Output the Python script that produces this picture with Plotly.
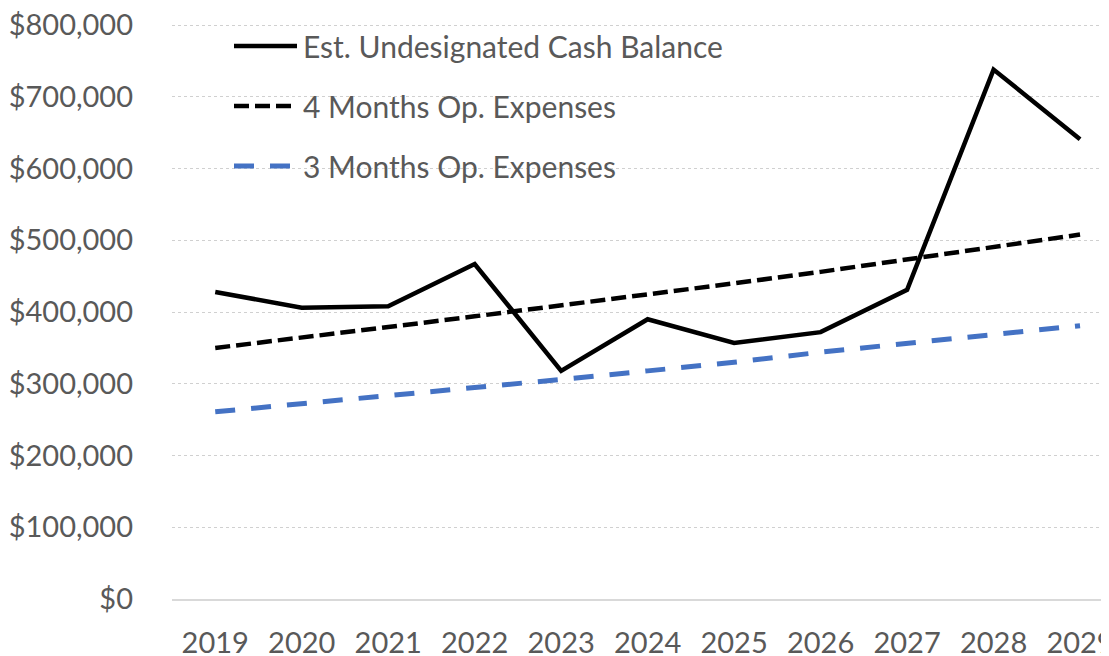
import plotly.graph_objects as go

years = [2019, 2020, 2021, 2022, 2023, 2024, 2025, 2026, 2027, 2028, 2029]
cash_balance = [428000, 406000, 408000, 467000, 318000, 390000, 357000, 372000, 431000, 738000, 641000]
four_months = [350000, 364000, 379000, 394000, 409000, 424000, 440000, 456000, 473000, 490000, 508000]
three_months = [261000, 272000, 283000, 295000, 306000, 318000, 330000, 344000, 356000, 368000, 381000]
series_names = ["Est. Undesignated Cash Balance", "4 Months Op. Expenses", "3 Months Op. Expenses"]
y_ticks = [0, 100000, 200000, 300000, 400000, 500000, 600000, 700000, 800000]

# the page body has an 8px margin, so the figure is offset by (8, 8) in the window
OFF = 8
W, H = 1109 - OFF, 656 - OFF
ML, MR, MT, MB = 172 - OFF, 0, 24 - OFF, 656 - 599
FONT = "Lato"
GRAY = "#595959"
BLUE = "#4472C4"
Y_MAX = 801500

fig = go.Figure()
fig.add_trace(go.Scatter(x=years, y=cash_balance, mode="lines", name=series_names[0],
                         line=dict(color="black", width=4.5), showlegend=False))
fig.add_trace(go.Scatter(x=years, y=four_months, mode="lines", name=series_names[1],
                         line=dict(color="black", width=4.5, dash="15px,6px"), showlegend=False))
fig.add_trace(go.Scatter(x=years, y=three_months, mode="lines", name=series_names[2],
                         line=dict(color=BLUE, width=5, dash="20px,16px"), showlegend=False))

# custom legend (paper coordinates), positions given in window pixels
pw = W - ML - MR
ph = H - MT - MB
def px_x(p):
    return (p - OFF - ML) / pw
def px_y(p):
    return (H - MB - (p - OFF)) / ph

rows = [46, 106, 166]
styles = [dict(color="black", width=4.5), dict(color="black", width=4.5, dash="15px,6px"),
          dict(color=BLUE, width=5, dash="20px,16px")]
for name, ry, st in zip(series_names, rows, styles):
    fig.add_shape(type="line", xref="paper", yref="paper",
                  x0=px_x(234), x1=px_x(297), y0=px_y(ry), y1=px_y(ry), line=st)
    fig.add_annotation(xref="paper", yref="paper", x=px_x(301), y=px_y(ry),
                       text=name, showarrow=False, xanchor="left", yanchor="middle",
                       font=dict(family=FONT, size=30, color=GRAY))

fig.update_layout(
    width=W, height=H,
    margin=dict(l=ML, r=MR, t=MT, b=MB, pad=0, autoexpand=False),
    paper_bgcolor="white", plot_bgcolor="white",
    font=dict(family=FONT, size=29, color=GRAY),
)
fig.update_xaxes(
    range=[2018.5, 2029 + 29 / 86.6],
    tickvals=years, ticktext=[str(y) for y in years],
    showgrid=False, zeroline=False, automargin=False,
    showline=True, linecolor="#D9D9D9", linewidth=1.5,
    ticks="", ticklabelstandoff=17, ticklabeloverflow="allow",
    tickfont=dict(family=FONT, size=29, color=GRAY),
)
fig.update_yaxes(
    range=[0, Y_MAX], tickvals=y_ticks, automargin=False,
    ticktext=["${:,}".format(v) for v in y_ticks],
    showgrid=True, gridcolor="#D0D0D0", griddash="dot", gridwidth=1,
    zeroline=False, showline=False, ticks="", ticklabelstandoff=38,
    ticklabeloverflow="allow",
    tickfont=dict(family=FONT, size=29, color=GRAY),
)

fig.write_html("out.html")
